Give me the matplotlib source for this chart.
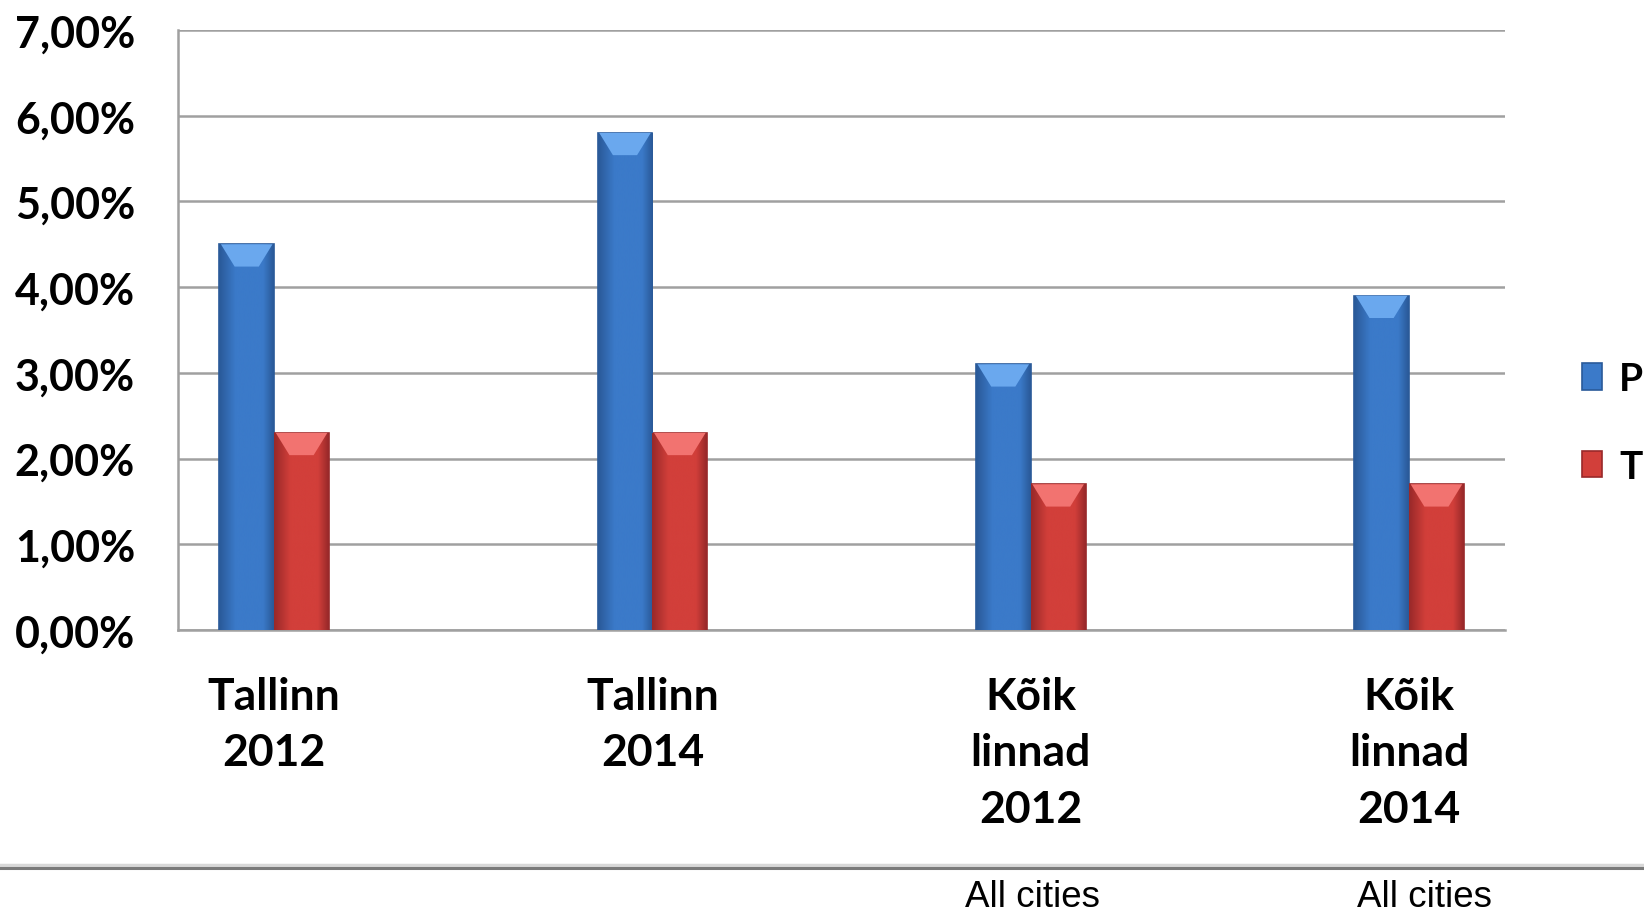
import numpy as np
import matplotlib.pyplot as plt
from matplotlib.patches import Polygon
from matplotlib.lines import Line2D
from matplotlib.colors import LinearSegmentedColormap

categories = ["Tallinn\n2012", "Tallinn\n2014", "Kõik\nlinnad\n2012", "Kõik\nlinnad\n2014"]
p_values = [4.5, 5.8, 3.1, 3.9]
t_values = [2.3, 2.3, 1.7, 1.7]
y_ticks = [0, 1, 2, 3, 4, 5, 6, 7]
legend_labels = ["P", "T"]
notes = ["All cities", "All cities"]

blue, blue_dark, blue_light = "#3b7ac9", "#2a5a99", "#6aa8ee"
red, red_dark, red_light = "#d23f3a", "#99292a", "#f27370"

fig = plt.figure(figsize=(16.44, 9.12), dpi=100)
ax = fig.add_axes([0.1083, 0.3081, 0.8072, 0.6579])

x = np.arange(len(categories))
w = 0.145
bars_p = ax.bar(x - w / 2, p_values, w, color=blue, edgecolor=blue_dark, linewidth=1.2, zorder=3)
bars_t = ax.bar(x + w / 2, t_values, w, color=red, edgecolor=red_dark, linewidth=1.2, zorder=3)

# shading across each bar and a bevel on top
grad = np.concatenate([np.linspace(0, 1, 30), np.linspace(1, 0, 20)]).reshape(1, -1)
depth = 0.26
for bars, dark, mid, light in [(bars_p, blue_dark, blue, blue_light), (bars_t, red_dark, red, red_light)]:
    cmap = LinearSegmentedColormap.from_list("shade", [dark, mid, mid])
    for b in bars:
        x0, bw, h = b.get_x(), b.get_width(), b.get_height()
        im = ax.imshow(grad, extent=[x0, x0 + bw, 0, h], cmap=cmap, aspect="auto",
                       interpolation="bicubic", zorder=3.5)
        im.set_clip_path(b)
        poly = Polygon([[x0 + 0.03 * bw, h], [x0 + 0.97 * bw, h],
                        [x0 + 0.72 * bw, h - depth], [x0 + 0.28 * bw, h - depth]],
                       closed=True, facecolor=light, edgecolor="none", zorder=4)
        ax.add_patch(poly)

ax.set_ylim(0, 7)
ax.set_xlim(-0.254, 3.254)
ax.set_yticks(y_ticks)
ax.set_yticklabels(["%d,00%%" % v for v in y_ticks])
ax.set_xticks(x)
ax.set_xticklabels(categories, linespacing=1.5)
ax.yaxis.grid(True, color="#a0a0a0", linewidth=1.8, zorder=0)
ax.tick_params(axis="both", length=0)
ax.tick_params(axis="y", pad=31, labelsize=31)
ax.tick_params(axis="x", pad=33, labelsize=32)
for lab in ax.get_xticklabels() + ax.get_yticklabels():
    lab.set_fontfamily("Lato")
    lab.set_fontweight("bold")
for s in ["top", "right"]:
    ax.spines[s].set_visible(False)
ax.spines["left"].set_color("#a0a0a0")
ax.spines["left"].set_linewidth(1.8)
ax.spines["bottom"].set_color("#a0a0a0")
ax.spines["bottom"].set_linewidth(1.8)

handles = [bars_p[0], bars_t[0]]
leg = ax.legend(handles, legend_labels, loc="center left", bbox_to_anchor=(0.962, 0.5356),
                bbox_transform=fig.transFigure, frameon=False, handlelength=0.52,
                handleheight=0.66, handletextpad=0.45, labelspacing=1.36, borderpad=0,
                borderaxespad=0, prop={"family": "Lato", "weight": "bold", "size": 28})

# separator line and notes below
fig.add_artist(Line2D([0, 1], [1 - 866 / 912, 1 - 866 / 912], color="#d8d8d8", linewidth=2.5))
fig.add_artist(Line2D([0, 1], [1 - 868.5 / 912, 1 - 868.5 / 912], color="#7a7a7a", linewidth=2.2))
for xc, t in zip([1032 / 1644, 1424 / 1644], notes):
    fig.text(xc, 1 - 907 / 912, t, ha="center", va="baseline", fontsize=26.5,
             family="Liberation Sans")

fig.savefig("out.png", dpi=100, facecolor="white")
